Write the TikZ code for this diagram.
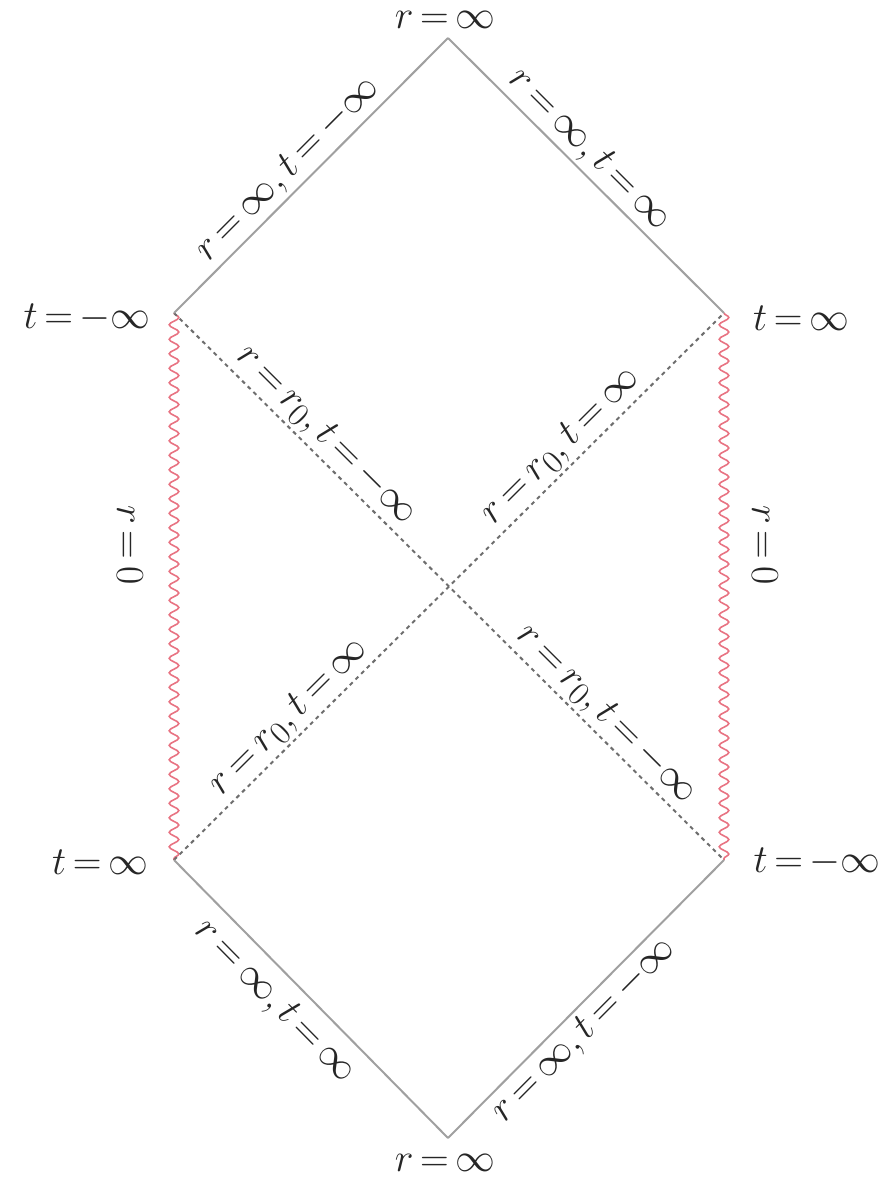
\documentclass[tikz,border=0pt]{standalone}
\usetikzlibrary{decorations.pathmorphing}
\definecolor{edgegray}{RGB}{160,160,160}
\definecolor{dashgray}{RGB}{110,110,110}
\definecolor{wavered}{RGB}{232,115,130}
\AtBeginDocument{\thickmuskip=3mu}
\begin{document}
\begin{tikzpicture}[x=1pt,y=-1pt,
  lbl/.style={font=\Huge, scale=1.6, inner sep=0pt, text=black!85},
  edgelbl/.style={lbl, sloped, inner sep=1.5pt},
  bound/.style={draw=edgegray, line width=2pt},
  horizon/.style={draw=dashgray, line width=2pt, dash pattern=on 4pt off 4pt},
  sing/.style={draw=wavered, line width=1.6pt, decorate, decoration={snake, amplitude=4.8pt, segment length=14.5pt}}]
\useasboundingbox (0,0) rectangle (890,1182);
\coordinate (T) at (448,38);
\coordinate (LT) at (174,313);
\coordinate (RT) at (724,313);
\coordinate (LB) at (174,860);
\coordinate (RB) at (724,860);
\coordinate (B) at (448,1138);
% singularities
\draw[sing] (LT) -- (LB);
\draw[sing] (RT) -- (RB);
% horizons
\draw[horizon] (LT) -- node[edgelbl, above, pos=0.25] (h1a) {$r=r_0,t=-\infty$}
                      node[edgelbl, above, pos=0.76] (h1b) {$r=r_0,t=-\infty$} (RB);
\draw[horizon] (LB) -- node[edgelbl, above, pos=0.235] (h2a) {$r=r_0,t=\infty$}
                      node[edgelbl, above, pos=0.73] (h2b) {$r=r_0,t=\infty$} (RT);
% boundaries
\draw[bound] (LT) -- node[edgelbl, above, pos=0.47] (eTL) {$r=\infty,t=-\infty$} (T);
\draw[bound] (T) -- node[edgelbl, above, pos=0.46] (eTR) {$r=\infty,t=\infty$} (RT);
\draw[bound] (LB) -- node[edgelbl, below, pos=0.44, inner sep=6.5pt] (eBL) {$r=\infty,t=\infty$} (B);
\draw[bound] (B) -- node[edgelbl, below, pos=0.44, inner sep=2.5pt] (eBR) {$r=\infty,t=-\infty$} (RB);
% r = 0 labels
\node[lbl, rotate=-90] (s1) at (130,545) {$r=0$};
\node[lbl, rotate=-90] (s2) at (765,545) {$r=0$};
% corner labels
\node[lbl] (cT) at (445,20) {$r=\infty$};
\node[lbl] (cB) at (445,1163) {$r=\infty$};
\node[lbl] (cLT) at (87,318) {$t=-\infty$};
\node[lbl] (cRT) at (801,318) {$t=\infty$};
\node[lbl] (cLB) at (100,862) {$t=\infty$};
\node[lbl] (cRB) at (817,862) {$t=-\infty$};
\end{tikzpicture}
\end{document}
